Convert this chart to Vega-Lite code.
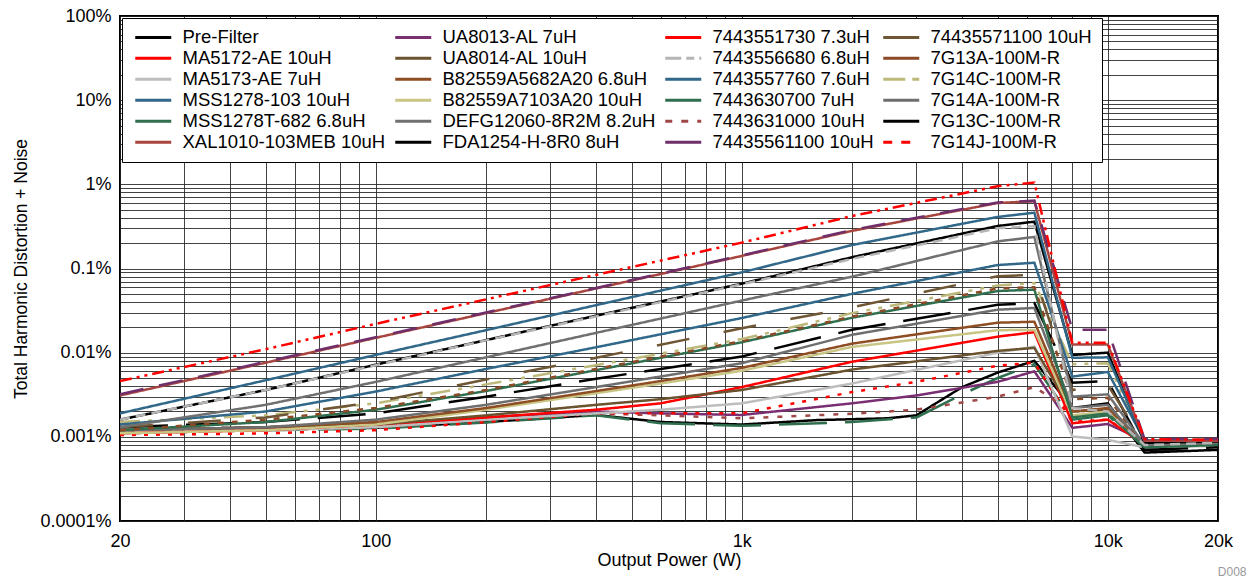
{
"$schema":"https://vega.github.io/schema/vega-lite/v6.json",
"width":1098,"height":505,
"autosize":{"type":"none"},
"padding":{"left":120,"top":16,"right":33,"bottom":58},
"background":"white",
"config":{"font":"Liberation Sans","view":{"stroke":"#000","strokeWidth":2}},
"title":{"text":"D008","orient":"bottom","anchor":"end","fontSize":12,"fontWeight":"normal","color":"#999","font":"Liberation Sans","dx":14,"offset":-2},
"data":{"values":[
{"s":"Pre-Filter","p":20,"v":0.00118},{"s":"Pre-Filter","p":50,"v":0.00122},{"s":"Pre-Filter","p":100,"v":0.00128},{"s":"Pre-Filter","p":200,"v":0.0015},{"s":"Pre-Filter","p":400,"v":0.00182},{"s":"Pre-Filter","p":600,"v":0.0015},{"s":"Pre-Filter","p":1000,"v":0.0014},{"s":"Pre-Filter","p":1600,"v":0.00158},{"s":"Pre-Filter","p":2500,"v":0.00166},{"s":"Pre-Filter","p":3000,"v":0.0018},{"s":"Pre-Filter","p":4000,"v":0.0039},{"s":"Pre-Filter","p":5000,"v":0.0058},{"s":"Pre-Filter","p":6300,"v":0.008},{"s":"Pre-Filter","p":8000,"v":0.0022},{"s":"Pre-Filter","p":10000,"v":0.0025},{"s":"Pre-Filter","p":12600,"v":0.00065},{"s":"Pre-Filter","p":20000,"v":0.0007},
{"s":"MSS1278T-682 6.8uH","p":20,"v":0.00115},{"s":"MSS1278T-682 6.8uH","p":50,"v":0.0012},{"s":"MSS1278T-682 6.8uH","p":100,"v":0.00125},{"s":"MSS1278T-682 6.8uH","p":200,"v":0.00148},{"s":"MSS1278T-682 6.8uH","p":400,"v":0.0018},{"s":"MSS1278T-682 6.8uH","p":600,"v":0.00145},{"s":"MSS1278T-682 6.8uH","p":1000,"v":0.00135},{"s":"MSS1278T-682 6.8uH","p":2000,"v":0.0015},{"s":"MSS1278T-682 6.8uH","p":3000,"v":0.0017},{"s":"MSS1278T-682 6.8uH","p":4000,"v":0.0032},{"s":"MSS1278T-682 6.8uH","p":5000,"v":0.005},{"s":"MSS1278T-682 6.8uH","p":6300,"v":0.0073},{"s":"MSS1278T-682 6.8uH","p":8000,"v":0.0016},{"s":"MSS1278T-682 6.8uH","p":10000,"v":0.0018},{"s":"MSS1278T-682 6.8uH","p":12600,"v":0.00075},{"s":"MSS1278T-682 6.8uH","p":20000,"v":0.0008},
{"s":"UA8013-AL 7uH","p":20,"v":0.0012},{"s":"UA8013-AL 7uH","p":50,"v":0.0013},{"s":"UA8013-AL 7uH","p":100,"v":0.0014},{"s":"UA8013-AL 7uH","p":200,"v":0.0017},{"s":"UA8013-AL 7uH","p":400,"v":0.002},{"s":"UA8013-AL 7uH","p":600,"v":0.0019},{"s":"UA8013-AL 7uH","p":1000,"v":0.00182},{"s":"UA8013-AL 7uH","p":2000,"v":0.0025},{"s":"UA8013-AL 7uH","p":3000,"v":0.0031},{"s":"UA8013-AL 7uH","p":5000,"v":0.0045},{"s":"UA8013-AL 7uH","p":6300,"v":0.006},{"s":"UA8013-AL 7uH","p":8000,"v":0.00128},{"s":"UA8013-AL 7uH","p":10000,"v":0.00142},{"s":"UA8013-AL 7uH","p":12600,"v":0.0009},{"s":"UA8013-AL 7uH","p":20000,"v":0.00092},
{"s":"7443631000 10uH","p":20,"v":0.0011},{"s":"7443631000 10uH","p":50,"v":0.0012},{"s":"7443631000 10uH","p":100,"v":0.0013},{"s":"7443631000 10uH","p":200,"v":0.0016},{"s":"7443631000 10uH","p":400,"v":0.0019},{"s":"7443631000 10uH","p":600,"v":0.0018},{"s":"7443631000 10uH","p":1000,"v":0.00166},{"s":"7443631000 10uH","p":2000,"v":0.00188},{"s":"7443631000 10uH","p":3000,"v":0.0021},{"s":"7443631000 10uH","p":5000,"v":0.003},{"s":"7443631000 10uH","p":6300,"v":0.0039},{"s":"7443631000 10uH","p":8000,"v":0.002},{"s":"7443631000 10uH","p":10000,"v":0.0022},{"s":"7443631000 10uH","p":12600,"v":0.0008},{"s":"7443631000 10uH","p":20000,"v":0.00085},
{"s":"MA5172-AE 10uH","p":20,"v":0.00105},{"s":"MA5172-AE 10uH","p":50,"v":0.0011},{"s":"MA5172-AE 10uH","p":100,"v":0.0012},{"s":"MA5172-AE 10uH","p":200,"v":0.0015},{"s":"MA5172-AE 10uH","p":400,"v":0.0019},{"s":"MA5172-AE 10uH","p":600,"v":0.0019},{"s":"MA5172-AE 10uH","p":1000,"v":0.0019},{"s":"MA5172-AE 10uH","p":2000,"v":0.0034},{"s":"MA5172-AE 10uH","p":3000,"v":0.0045},{"s":"MA5172-AE 10uH","p":5000,"v":0.007},{"s":"MA5172-AE 10uH","p":6300,"v":0.0076},{"s":"MA5172-AE 10uH","p":8000,"v":0.0015},{"s":"MA5172-AE 10uH","p":10000,"v":0.0016},{"s":"MA5172-AE 10uH","p":12600,"v":0.00085},{"s":"MA5172-AE 10uH","p":20000,"v":0.0009},
{"s":"MA5173-AE 7uH","p":20,"v":0.00115},{"s":"MA5173-AE 7uH","p":50,"v":0.0012},{"s":"MA5173-AE 7uH","p":100,"v":0.0013},{"s":"MA5173-AE 7uH","p":200,"v":0.0016},{"s":"MA5173-AE 7uH","p":400,"v":0.0019},{"s":"MA5173-AE 7uH","p":600,"v":0.0021},{"s":"MA5173-AE 7uH","p":1000,"v":0.0025},{"s":"MA5173-AE 7uH","p":2000,"v":0.0043},{"s":"MA5173-AE 7uH","p":5000,"v":0.01},{"s":"MA5173-AE 7uH","p":6300,"v":0.0118},{"s":"MA5173-AE 7uH","p":8000,"v":0.00101},{"s":"MA5173-AE 7uH","p":10000,"v":0.00092},{"s":"MA5173-AE 7uH","p":12600,"v":0.00075},{"s":"MA5173-AE 7uH","p":20000,"v":0.00078},
{"s":"7443551730 7.3uH","p":20,"v":0.0011},{"s":"7443551730 7.3uH","p":50,"v":0.0012},{"s":"7443551730 7.3uH","p":100,"v":0.0014},{"s":"7443551730 7.3uH","p":200,"v":0.0017},{"s":"7443551730 7.3uH","p":400,"v":0.0021},{"s":"7443551730 7.3uH","p":600,"v":0.0025},{"s":"7443551730 7.3uH","p":1000,"v":0.0039},{"s":"7443551730 7.3uH","p":2000,"v":0.0078},{"s":"7443551730 7.3uH","p":5000,"v":0.0155},{"s":"7443551730 7.3uH","p":6300,"v":0.0175},{"s":"7443551730 7.3uH","p":8000,"v":0.00145},{"s":"7443551730 7.3uH","p":10000,"v":0.0016},{"s":"7443551730 7.3uH","p":12600,"v":0.0008},{"s":"7443551730 7.3uH","p":20000,"v":0.00085},
{"s":"UA8014-AL 10uH","p":20,"v":0.0012},{"s":"UA8014-AL 10uH","p":50,"v":0.0013},{"s":"UA8014-AL 10uH","p":100,"v":0.0014},{"s":"UA8014-AL 10uH","p":200,"v":0.0018},{"s":"UA8014-AL 10uH","p":400,"v":0.0024},{"s":"UA8014-AL 10uH","p":600,"v":0.0028},{"s":"UA8014-AL 10uH","p":1000,"v":0.0036},{"s":"UA8014-AL 10uH","p":2000,"v":0.0063},{"s":"UA8014-AL 10uH","p":5000,"v":0.0105},{"s":"UA8014-AL 10uH","p":6300,"v":0.0114},{"s":"UA8014-AL 10uH","p":8000,"v":0.002},{"s":"UA8014-AL 10uH","p":10000,"v":0.0021},{"s":"UA8014-AL 10uH","p":12600,"v":0.0008},{"s":"UA8014-AL 10uH","p":20000,"v":0.00085},
{"s":"B82559A7103A20 10uH","p":20,"v":0.0011},{"s":"B82559A7103A20 10uH","p":50,"v":0.0012},{"s":"B82559A7103A20 10uH","p":100,"v":0.0014},{"s":"B82559A7103A20 10uH","p":200,"v":0.0021},{"s":"B82559A7103A20 10uH","p":400,"v":0.0033},{"s":"B82559A7103A20 10uH","p":600,"v":0.0043},{"s":"B82559A7103A20 10uH","p":1000,"v":0.0061},{"s":"B82559A7103A20 10uH","p":2000,"v":0.0117},{"s":"B82559A7103A20 10uH","p":5000,"v":0.0185},{"s":"B82559A7103A20 10uH","p":6300,"v":0.0186},{"s":"B82559A7103A20 10uH","p":8000,"v":0.0018},{"s":"B82559A7103A20 10uH","p":10000,"v":0.002},{"s":"B82559A7103A20 10uH","p":12600,"v":0.00078},{"s":"B82559A7103A20 10uH","p":20000,"v":0.0008},
{"s":"B82559A5682A20 6.8uH","p":20,"v":0.0012},{"s":"B82559A5682A20 6.8uH","p":50,"v":0.0013},{"s":"B82559A5682A20 6.8uH","p":100,"v":0.0015},{"s":"B82559A5682A20 6.8uH","p":200,"v":0.0022},{"s":"B82559A5682A20 6.8uH","p":400,"v":0.0035},{"s":"B82559A5682A20 6.8uH","p":600,"v":0.0046},{"s":"B82559A5682A20 6.8uH","p":1000,"v":0.0066},{"s":"B82559A5682A20 6.8uH","p":2000,"v":0.0128},{"s":"B82559A5682A20 6.8uH","p":5000,"v":0.0227},{"s":"B82559A5682A20 6.8uH","p":6300,"v":0.0233},{"s":"B82559A5682A20 6.8uH","p":8000,"v":0.002},{"s":"B82559A5682A20 6.8uH","p":10000,"v":0.0022},{"s":"B82559A5682A20 6.8uH","p":12600,"v":0.0008},{"s":"B82559A5682A20 6.8uH","p":20000,"v":0.00085},
{"s":"7G14A-100M-R","p":20,"v":0.0012},{"s":"7G14A-100M-R","p":50,"v":0.0013},{"s":"7G14A-100M-R","p":100,"v":0.0016},{"s":"7G14A-100M-R","p":200,"v":0.0024},{"s":"7G14A-100M-R","p":400,"v":0.0039},{"s":"7G14A-100M-R","p":1000,"v":0.0075},{"s":"7G14A-100M-R","p":2000,"v":0.0163},{"s":"7G14A-100M-R","p":5000,"v":0.0324},{"s":"7G14A-100M-R","p":6300,"v":0.034},{"s":"7G14A-100M-R","p":8000,"v":0.0022},{"s":"7G14A-100M-R","p":10000,"v":0.0024},{"s":"7G14A-100M-R","p":12600,"v":0.0008},{"s":"7G14A-100M-R","p":20000,"v":0.00082},
{"s":"7G13C-100M-R","p":20,"v":0.0013},{"s":"7G13C-100M-R","p":50,"v":0.0015},{"s":"7G13C-100M-R","p":100,"v":0.0019},{"s":"7G13C-100M-R","p":200,"v":0.003},{"s":"7G13C-100M-R","p":400,"v":0.0049},{"s":"7G13C-100M-R","p":1000,"v":0.009},{"s":"7G13C-100M-R","p":2000,"v":0.0187},{"s":"7G13C-100M-R","p":5000,"v":0.037},{"s":"7G13C-100M-R","p":6300,"v":0.039},{"s":"7G13C-100M-R","p":8000,"v":0.0044},{"s":"7G13C-100M-R","p":10000,"v":0.0046},{"s":"7G13C-100M-R","p":12600,"v":0.0007},{"s":"7G13C-100M-R","p":20000,"v":0.00075},
{"s":"7443630700 7uH","p":20,"v":0.0012},{"s":"7443630700 7uH","p":50,"v":0.0015},{"s":"7443630700 7uH","p":100,"v":0.0021},{"s":"7443630700 7uH","p":200,"v":0.0035},{"s":"7443630700 7uH","p":400,"v":0.0062},{"s":"7443630700 7uH","p":1000,"v":0.0133},{"s":"7443630700 7uH","p":2000,"v":0.026},{"s":"7443630700 7uH","p":5000,"v":0.054},{"s":"7443630700 7uH","p":6300,"v":0.056},{"s":"7443630700 7uH","p":8000,"v":0.0017},{"s":"7443630700 7uH","p":10000,"v":0.0019},{"s":"7443630700 7uH","p":12600,"v":0.00075},{"s":"7443630700 7uH","p":20000,"v":0.0008},
{"s":"7G13A-100M-R","p":20,"v":0.0012},{"s":"7G13A-100M-R","p":50,"v":0.0016},{"s":"7G13A-100M-R","p":100,"v":0.0022},{"s":"7G13A-100M-R","p":200,"v":0.0036},{"s":"7G13A-100M-R","p":400,"v":0.0064},{"s":"7G13A-100M-R","p":1000,"v":0.0137},{"s":"7G13A-100M-R","p":2000,"v":0.0268},{"s":"7G13A-100M-R","p":5000,"v":0.058},{"s":"7G13A-100M-R","p":6300,"v":0.06},{"s":"7G13A-100M-R","p":8000,"v":0.0028},{"s":"7G13A-100M-R","p":10000,"v":0.0029},{"s":"7G13A-100M-R","p":12600,"v":0.0008},{"s":"7G13A-100M-R","p":20000,"v":0.00085},
{"s":"7G14C-100M-R","p":20,"v":0.0015},{"s":"7G14C-100M-R","p":50,"v":0.0018},{"s":"7G14C-100M-R","p":100,"v":0.0025},{"s":"7G14C-100M-R","p":200,"v":0.0042},{"s":"7G14C-100M-R","p":400,"v":0.0071},{"s":"7G14C-100M-R","p":1000,"v":0.0145},{"s":"7G14C-100M-R","p":2000,"v":0.0295},{"s":"7G14C-100M-R","p":5000,"v":0.063},{"s":"7G14C-100M-R","p":6300,"v":0.067},{"s":"7G14C-100M-R","p":8000,"v":0.0073},{"s":"7G14C-100M-R","p":10000,"v":0.0075},{"s":"7G14C-100M-R","p":12600,"v":0.0009},{"s":"7G14C-100M-R","p":20000,"v":0.0009},
{"s":"74435571100 10uH","p":20,"v":0.0013},{"s":"74435571100 10uH","p":50,"v":0.0017},{"s":"74435571100 10uH","p":100,"v":0.0026},{"s":"74435571100 10uH","p":200,"v":0.0048},{"s":"74435571100 10uH","p":400,"v":0.0087},{"s":"74435571100 10uH","p":1000,"v":0.0195},{"s":"74435571100 10uH","p":2000,"v":0.0345},{"s":"74435571100 10uH","p":5000,"v":0.081},{"s":"74435571100 10uH","p":6300,"v":0.084},{"s":"74435571100 10uH","p":8000,"v":0.0036},{"s":"74435571100 10uH","p":10000,"v":0.0041},{"s":"74435571100 10uH","p":12600,"v":0.00085},{"s":"74435571100 10uH","p":20000,"v":0.0009},
{"s":"7443557760 7.6uH","p":20,"v":0.0014},{"s":"7443557760 7.6uH","p":50,"v":0.002},{"s":"7443557760 7.6uH","p":100,"v":0.00345},{"s":"7443557760 7.6uH","p":200,"v":0.0064},{"s":"7443557760 7.6uH","p":400,"v":0.0116},{"s":"7443557760 7.6uH","p":1000,"v":0.0258},{"s":"7443557760 7.6uH","p":2000,"v":0.05},{"s":"7443557760 7.6uH","p":5000,"v":0.11},{"s":"7443557760 7.6uH","p":6300,"v":0.117},{"s":"7443557760 7.6uH","p":8000,"v":0.0052},{"s":"7443557760 7.6uH","p":10000,"v":0.0059},{"s":"7443557760 7.6uH","p":12600,"v":0.0009},{"s":"7443557760 7.6uH","p":20000,"v":0.0009},
{"s":"DEFG12060-8R2M 8.2uH","p":20,"v":0.0013},{"s":"DEFG12060-8R2M 8.2uH","p":50,"v":0.0024},{"s":"DEFG12060-8R2M 8.2uH","p":100,"v":0.0045},{"s":"DEFG12060-8R2M 8.2uH","p":200,"v":0.0088},{"s":"DEFG12060-8R2M 8.2uH","p":400,"v":0.0172},{"s":"DEFG12060-8R2M 8.2uH","p":1000,"v":0.0416},{"s":"DEFG12060-8R2M 8.2uH","p":2000,"v":0.08},{"s":"DEFG12060-8R2M 8.2uH","p":5000,"v":0.21},{"s":"DEFG12060-8R2M 8.2uH","p":6300,"v":0.237},{"s":"DEFG12060-8R2M 8.2uH","p":8000,"v":0.003},{"s":"DEFG12060-8R2M 8.2uH","p":10000,"v":0.0032},{"s":"DEFG12060-8R2M 8.2uH","p":12600,"v":0.0008},{"s":"DEFG12060-8R2M 8.2uH","p":20000,"v":0.00085},
{"s":"FDA1254-H-8R0 8uH","p":20,"v":0.0016},{"s":"FDA1254-H-8R0 8uH","p":50,"v":0.0036},{"s":"FDA1254-H-8R0 8uH","p":100,"v":0.0072},{"s":"FDA1254-H-8R0 8uH","p":200,"v":0.0141},{"s":"FDA1254-H-8R0 8uH","p":400,"v":0.0275},{"s":"FDA1254-H-8R0 8uH","p":1000,"v":0.066},{"s":"FDA1254-H-8R0 8uH","p":2000,"v":0.136},{"s":"FDA1254-H-8R0 8uH","p":5000,"v":0.32},{"s":"FDA1254-H-8R0 8uH","p":6300,"v":0.36},{"s":"FDA1254-H-8R0 8uH","p":8000,"v":0.0094},{"s":"FDA1254-H-8R0 8uH","p":10000,"v":0.01},{"s":"FDA1254-H-8R0 8uH","p":12600,"v":0.00085},{"s":"FDA1254-H-8R0 8uH","p":20000,"v":0.00088},
{"s":"7443556680 6.8uH","p":20,"v":0.0016},{"s":"7443556680 6.8uH","p":50,"v":0.0036},{"s":"7443556680 6.8uH","p":100,"v":0.0071},{"s":"7443556680 6.8uH","p":200,"v":0.014},{"s":"7443556680 6.8uH","p":400,"v":0.027},{"s":"7443556680 6.8uH","p":1000,"v":0.065},{"s":"7443556680 6.8uH","p":2000,"v":0.13},{"s":"7443556680 6.8uH","p":5000,"v":0.3},{"s":"7443556680 6.8uH","p":6300,"v":0.32},{"s":"7443556680 6.8uH","p":8000,"v":0.0022},{"s":"7443556680 6.8uH","p":10000,"v":0.002},{"s":"7443556680 6.8uH","p":12600,"v":0.0008},{"s":"7443556680 6.8uH","p":20000,"v":0.00085},
{"s":"MSS1278-103 10uH","p":20,"v":0.0019},{"s":"MSS1278-103 10uH","p":50,"v":0.0047},{"s":"MSS1278-103 10uH","p":100,"v":0.0094},{"s":"MSS1278-103 10uH","p":200,"v":0.0185},{"s":"MSS1278-103 10uH","p":400,"v":0.0367},{"s":"MSS1278-103 10uH","p":1000,"v":0.09},{"s":"MSS1278-103 10uH","p":2000,"v":0.19},{"s":"MSS1278-103 10uH","p":5000,"v":0.41},{"s":"MSS1278-103 10uH","p":6300,"v":0.46},{"s":"MSS1278-103 10uH","p":8000,"v":0.0087},{"s":"MSS1278-103 10uH","p":10000,"v":0.0088},{"s":"MSS1278-103 10uH","p":12600,"v":0.0009},{"s":"MSS1278-103 10uH","p":20000,"v":0.00092},
{"s":"XAL1010-103MEB 10uH","p":20,"v":0.0031},{"s":"XAL1010-103MEB 10uH","p":50,"v":0.0076},{"s":"XAL1010-103MEB 10uH","p":100,"v":0.015},{"s":"XAL1010-103MEB 10uH","p":200,"v":0.0295},{"s":"XAL1010-103MEB 10uH","p":400,"v":0.058},{"s":"XAL1010-103MEB 10uH","p":1000,"v":0.141},{"s":"XAL1010-103MEB 10uH","p":2000,"v":0.28},{"s":"XAL1010-103MEB 10uH","p":5000,"v":0.6},{"s":"XAL1010-103MEB 10uH","p":6300,"v":0.63},{"s":"XAL1010-103MEB 10uH","p":8000,"v":0.0125},{"s":"XAL1010-103MEB 10uH","p":10000,"v":0.0125},{"s":"XAL1010-103MEB 10uH","p":12600,"v":0.0009},{"s":"XAL1010-103MEB 10uH","p":20000,"v":0.0009},
{"s":"74435561100 10uH","p":20,"v":0.0032},{"s":"74435561100 10uH","p":50,"v":0.0078},{"s":"74435561100 10uH","p":100,"v":0.0153},{"s":"74435561100 10uH","p":200,"v":0.03},{"s":"74435561100 10uH","p":400,"v":0.0586},{"s":"74435561100 10uH","p":1000,"v":0.143},{"s":"74435561100 10uH","p":2000,"v":0.287},{"s":"74435561100 10uH","p":5000,"v":0.61},{"s":"74435561100 10uH","p":6300,"v":0.64},{"s":"74435561100 10uH","p":8000,"v":0.0187},{"s":"74435561100 10uH","p":10000,"v":0.0187},{"s":"74435561100 10uH","p":12600,"v":0.00094},{"s":"74435561100 10uH","p":20000,"v":0.00094},
{"s":"7G14J-100M-R","p":20,"v":0.0046},{"s":"7G14J-100M-R","p":50,"v":0.011},{"s":"7G14J-100M-R","p":100,"v":0.022},{"s":"7G14J-100M-R","p":200,"v":0.043},{"s":"7G14J-100M-R","p":400,"v":0.084},{"s":"7G14J-100M-R","p":1000,"v":0.203},{"s":"7G14J-100M-R","p":2000,"v":0.42},{"s":"7G14J-100M-R","p":5000,"v":0.95},{"s":"7G14J-100M-R","p":6300,"v":1.05},{"s":"7G14J-100M-R","p":8000,"v":0.0131},{"s":"7G14J-100M-R","p":10000,"v":0.0131},{"s":"7G14J-100M-R","p":12600,"v":0.00094},{"s":"7G14J-100M-R","p":20000,"v":0.00092}
]},
"transform":[{"lookup":"s","default":"solid","from":{"data":{"values":[
{"s":"74435571100 10uH","d":"brownlong"},{"s":"MA5172-AE 10uH","d":"dot"},{"s":"7443556680 6.8uH","d":"dash"},{"s":"7G13A-100M-R","d":"sqdot"},{"s":"7G14C-100M-R","d":"dashdot2"},{"s":"MSS1278T-682 6.8uH","d":"longdash"},{"s":"7G13C-100M-R","d":"longdash"},{"s":"7443631000 10uH","d":"dot2"},{"s":"74435561100 10uH","d":"longgap"},{"s":"7G14J-100M-R","d":"dashdotdot"}
]},"key":"s","fields":["d"]}}],
"mark":{"type":"line","strokeWidth":2.5,"clip":true},
"encoding":{
"x":{"field":"p","type":"quantitative","scale":{"type":"log","domain":[20,20000],"nice":false},
"axis":{"values":[20,30,40,50,60,70,80,90,100,200,300,400,500,600,700,800,900,1000,2000,3000,4000,5000,6000,7000,8000,9000,10000,20000],
"labelExpr":"datum.value == 20 ? '20' : datum.value == 100 ? '100' : datum.value == 1000 ? '1k' : datum.value == 10000 ? '10k' : datum.value == 20000 ? '20k' : ''",
"title":"Output Power (W)","titleFontSize":18,"titleFontWeight":"normal","titleColor":"#000","titlePadding":1,
"labelFontSize":18,"labelColor":"#000","labelPadding":11,"labelOverlap":false,"labelFlush":false,"labelBound":false,
"ticks":false,"domain":false,"grid":true,"gridColor":"#222","gridOpacity":0.85,"gridWidth":1}},
"y":{"field":"v","type":"quantitative","scale":{"type":"log","domain":[0.0001,100],"nice":false},
"axis":{"values":[0.0001,0.0002,0.0003,0.0004,0.0005,0.0006,0.0007,0.0008,0.0009,0.001,0.002,0.003,0.004,0.005,0.006,0.007,0.008,0.009,0.01,0.02,0.03,0.04,0.05,0.06,0.07,0.08,0.09,0.1,0.2,0.3,0.4,0.5,0.6,0.7,0.8,0.9,1,2,3,4,5,6,7,8,9,10,20,30,40,50,60,70,80,90,100],
"labelExpr":"datum.value == 100 ? '100%' : datum.value == 10 ? '10%' : datum.value == 1 ? '1%' : datum.value == 0.1 ? '0.1%' : datum.value == 0.01 ? '0.01%' : datum.value == 0.001 ? '0.001%' : datum.value == 0.0001 ? '0.0001%' : ''",
"title":"Total Harmonic Distortion + Noise","titleFontSize":17.5,"titleFontWeight":"normal","titleColor":"#000","titlePadding":9,
"labelFontSize":18,"labelColor":"#000","labelPadding":9,"labelOverlap":false,"labelFlush":false,"labelBound":false,
"ticks":false,"domain":false,"grid":true,"gridColor":"#222","gridOpacity":0.85,"gridWidth":1}},
"color":{"field":"s","type":"nominal",
"scale":{"domain":["Pre-Filter","UA8013-AL 7uH","7443551730 7.3uH","74435571100 10uH","MA5172-AE 10uH","UA8014-AL 10uH","7443556680 6.8uH","7G13A-100M-R","MA5173-AE 7uH","B82559A5682A20 6.8uH","7443557760 7.6uH","7G14C-100M-R","MSS1278-103 10uH","B82559A7103A20 10uH","7443630700 7uH","7G14A-100M-R","MSS1278T-682 6.8uH","DEFG12060-8R2M 8.2uH","7443631000 10uH","7G13C-100M-R","XAL1010-103MEB 10uH","FDA1254-H-8R0 8uH","74435561100 10uH","7G14J-100M-R"],
"range":["#000000","#7A2F72","#FF0000","#6F5635","#FF0000","#6B5330","#B5B5B5","#8B4A25","#BDBDBD","#8E4D22","#31688A","#BDB97A","#31688A","#C9C585","#2F6F4F","#6E6E6E","#2F6F4F","#707070","#A04848","#000000","#A8453F","#000000","#6E2F6A","#FF0000"]},
"legend":{"orient":"none","legendX":2,"legendY":2,"columns":4,"title":null,"direction":"horizontal",
"labelFont":"Liberation Sans","labelFontSize":18.5,"labelColor":"#000","labelLimit":400,"labelOffset":32,
"symbolType":"M-1,0H5","symbolSize":144,"symbolStrokeWidth":3,"columnPadding":3,"rowPadding":2,
"padding":10,"fillColor":"#fff","strokeColor":"#000",
"encode":{"symbols":{"update":{"strokeDash":{"signal":"datum.value == '7443556680 6.8uH' ? [16,5,8,5] : datum.value == '7443631000 10uH' ? [7,9] : datum.value == '7G14C-100M-R' ? [22,7,7,7] : datum.value == '7G14J-100M-R' ? [9,9] : [1,0]"}}}}}},
"strokeDash":{"field":"d","type":"nominal","legend":null,
"scale":{"domain":["solid","brownlong","dot","dash","sqdot","dashdot2","longdash","dot2","longgap","dashdotdot"],
"range":[[1,0],[33,35],[4,8],[10,6],[6,8],[20,8,4,8,4,8],[48,18],[5,9],[24,16],[12,5,3,5,3,5]]}}
}
}
